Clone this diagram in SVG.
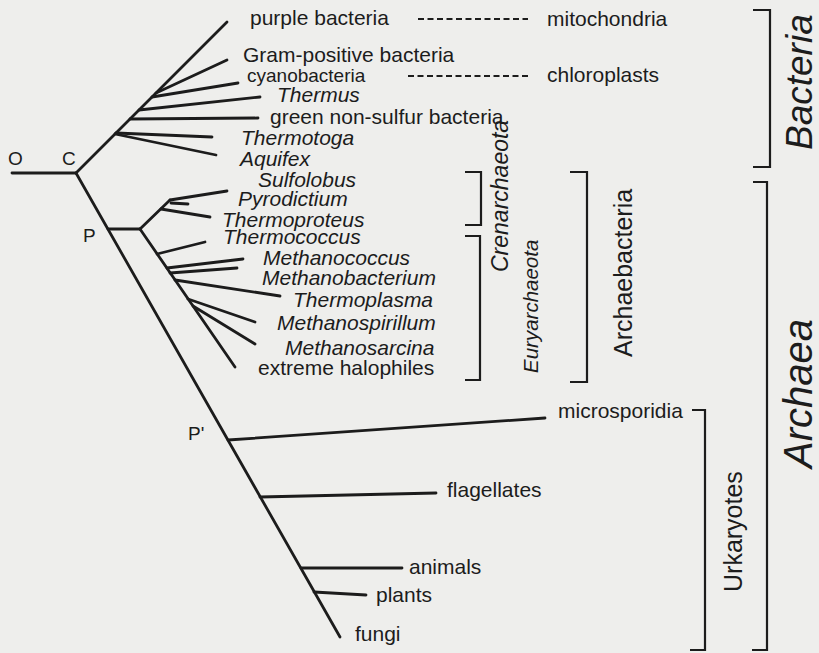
<svg xmlns="http://www.w3.org/2000/svg" width="819" height="653" viewBox="0 0 819 653">
<style>
.t{font-family:"Liberation Sans",Arial,sans-serif;font-size:21px;fill:#1c1c1c}
.i{font-style:italic}
.e{stroke:#1c1c1c;stroke-width:2.8;fill:none;stroke-linecap:round}
.d{stroke:#1c1c1c;stroke-width:2;fill:none;stroke-dasharray:6 3.5}
.b{stroke:#1c1c1c;stroke-width:2.2;fill:none}
</style>
<rect width="819" height="653" fill="#eeeeec"/>
<g id="connectors">
<path class="e" d="M12,173 H76"/>
<path class="e" d="M76,173 L227,22"/>
<path class="e" d="M156,93 L227,60"/>
<path class="e" d="M152,97 L238,83"/>
<path class="e" d="M139,110 L260,97"/>
<path class="e" d="M130,119 L258,118"/>
<path class="e" d="M116,133 L212,137"/>
<path class="e" d="M115,134 L216,155"/>
<path class="e" d="M76,173 L340,637"/>
<path class="e" d="M108,229 H140"/>
<path class="e" d="M140,229 L170,200"/>
<path class="e" d="M170,200 L227,191"/>
<path class="e" d="M171,203 L188,204"/>
<path class="e" d="M161,209 L210,217"/>
<path class="e" d="M140,229 L235,367"/>
<path class="e" d="M157,254 L205,242"/>
<path class="e" d="M167,268 L243,259"/>
<path class="e" d="M170,273 L237,268"/>
<path class="e" d="M175,280 L280,296"/>
<path class="e" d="M188,299 L255,322"/>
<path class="e" d="M193,306 L255,344"/>
<path class="e" d="M228,440 L545,418"/>
<path class="e" d="M260,497 L436,493"/>
<path class="e" d="M301,568 L402,568"/>
<path class="e" d="M314,592 L366,595"/>
<path class="d" d="M418,19 H528"/>
<path class="d" d="M408,76 H530"/>
</g>
<g id="node-O"><text class="t" x="8" y="165" style="font-size:19px">O</text></g>
<g id="node-C"><text class="t" x="62" y="165" style="font-size:19px">C</text></g>
<g id="node-P"><text class="t" x="83" y="242" style="font-size:19px">P</text></g>
<g id="node-Pprime"><text class="t" x="188" y="440" style="font-size:19px">P'</text></g>
<g id="purple-bacteria"><text class="t" x="250" y="25">purple bacteria</text></g>
<g id="mitochondria"><text class="t" x="547" y="26">mitochondria</text></g>
<g id="gram-positive"><text class="t" x="243" y="62">Gram-positive bacteria</text></g>
<g id="cyanobacteria"><text class="t" x="247" y="82" style="font-size:19px">cyanobacteria</text></g>
<g id="chloroplasts"><text class="t" x="547" y="82">chloroplasts</text></g>
<g id="thermus"><text class="t i" x="277" y="102">Thermus</text></g>
<g id="green-non-sulfur"><text class="t" x="270" y="124">green non-sulfur bacteria</text></g>
<g id="thermotoga"><text class="t i" x="241" y="145">Thermotoga</text></g>
<g id="aquifex"><text class="t i" x="240" y="166">Aquifex</text></g>
<g id="sulfolobus"><text class="t i" x="258" y="187">Sulfolobus</text></g>
<g id="pyrodictium"><text class="t i" x="238" y="206">Pyrodictium</text></g>
<g id="thermoproteus"><text class="t i" x="222" y="227">Thermoproteus</text></g>
<g id="thermococcus"><text class="t i" x="223" y="244">Thermococcus</text></g>
<g id="methanococcus"><text class="t i" x="263" y="265">Methanococcus</text></g>
<g id="methanobacterium"><text class="t i" x="262" y="285">Methanobacterium</text></g>
<g id="thermoplasma"><text class="t i" x="293" y="307">Thermoplasma</text></g>
<g id="methanospirillum"><text class="t i" x="277" y="330">Methanospirillum</text></g>
<g id="methanosarcina"><text class="t i" x="285" y="355">Methanosarcina</text></g>
<g id="extreme-halophiles"><text class="t" x="258" y="375">extreme halophiles</text></g>
<g id="microsporidia"><text class="t" x="558" y="418">microsporidia</text></g>
<g id="flagellates"><text class="t" x="447" y="497">flagellates</text></g>
<g id="animals"><text class="t" x="409" y="574">animals</text></g>
<g id="plants"><text class="t" x="376" y="602">plants</text></g>
<g id="fungi"><text class="t" x="355" y="641">fungi</text></g>
<g id="group-crenarchaeota">
<path class="b" d="M465,172 H481 V225 H465"/>
<text class="t i" transform="translate(508,272) rotate(-90)" style="font-size:23px">Crenarchaeota</text>
</g>
<g id="group-euryarchaeota">
<path class="b" d="M465,236 H480 V380 H465"/>
<text class="t i" transform="translate(538,373) rotate(-90)" style="font-size:20.5px">Euryarchaeota</text>
</g>
<g id="group-archaebacteria">
<path class="b" d="M570,172 H587 V382 H570"/>
<text class="t" transform="translate(632,357) rotate(-90)" style="font-size:25px">Archaebacteria</text>
</g>
<g id="group-urkaryotes">
<path class="b" d="M692,410 H705 V650 H690"/>
<text class="t" transform="translate(742,592) rotate(-90)" style="font-size:25px">Urkaryotes</text>
</g>
<g id="group-bacteria">
<path class="b" d="M753,10 H770 V167 H753"/>
<text class="t i" transform="translate(812,150) rotate(-90)" style="font-size:37px">Bacteria</text>
</g>
<g id="group-archaea">
<path class="b" d="M753,182 H767 V650 H752"/>
<text class="t i" transform="translate(812,468) rotate(-90)" style="font-size:40px">Archaea</text>
</g>
</svg>
